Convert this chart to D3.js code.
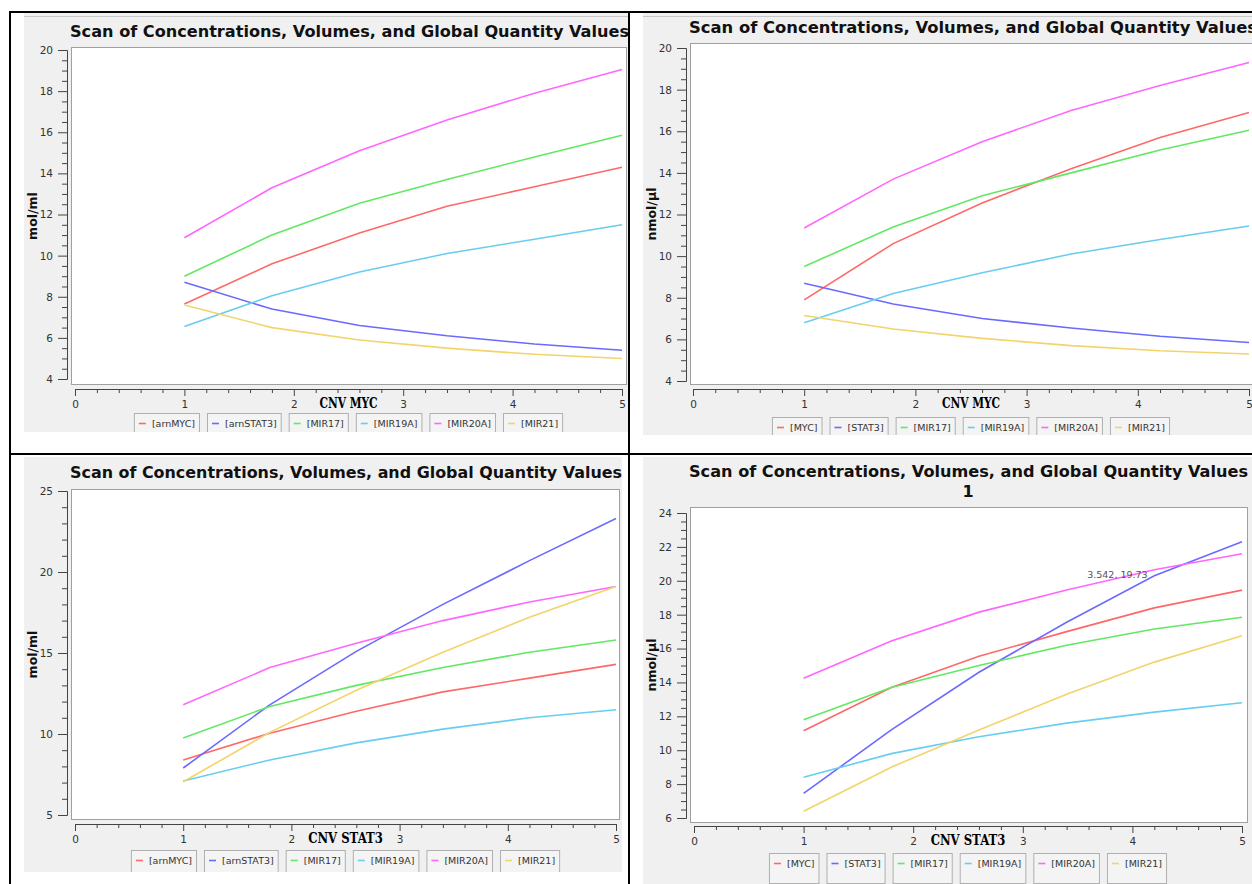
<!DOCTYPE html>
<html>
<head>
<meta charset="utf-8">
<script src="https://cdn.jsdelivr.net/npm/d3@7"></script>
<style>
  html, body { margin: 0; padding: 0; background: #fff; }
  svg { display: block; }
  text { font-family: 'DejaVu Sans', Verdana, sans-serif; }
</style>
</head>
<body>
<svg id="chart" width="1252" height="884"></svg>
<script>
// scan points (CNV value) where every series was sampled
const scanPoints = [1, 1.8, 2.6, 3.4, 4.2, 5];
const xTicks = [0, 1, 2, 3, 4, 5];

const titleText = 'Scan of Concentrations, Volumes, and Global Quantity Values';
const legendMol = ['[arnMYC]', '[arnSTAT3]', '[MIR17]', '[MIR19A]', '[MIR20A]', '[MIR21]'];
const legendNmol = ['[MYC]', '[STAT3]', '[MIR17]', '[MIR19A]', '[MIR20A]', '[MIR21]'];
const lineColours = ['#ff6868', '#6a6aff', '#62e862', '#68cdf0', '#ff66ff', '#f2d46a'];

// series order: MYC, STAT3, MIR17, MIR19A, MIR20A, MIR21
const cnvMycMol = [
  [7.65, 9.6, 11.1, 12.4, 13.35, 14.3],
  [8.7, 7.4, 6.6, 6.1, 5.7, 5.4],
  [9.0, 11.0, 12.55, 13.7, 14.8, 15.85],
  [6.55, 8.05, 9.2, 10.1, 10.8, 11.5],
  [10.87, 13.3, 15.1, 16.6, 17.9, 19.05],
  [7.6, 6.5, 5.9, 5.5, 5.2, 5.0]
];
const cnvMycNmol = [
  [7.9, 10.6, 12.55, 14.2, 15.7, 16.9],
  [8.7, 7.7, 7.0, 6.55, 6.15, 5.85],
  [9.5, 11.4, 12.9, 14.0, 15.1, 16.05],
  [6.8, 8.2, 9.2, 10.1, 10.8, 11.45],
  [11.35, 13.7, 15.5, 17.0, 18.2, 19.3],
  [7.15, 6.5, 6.05, 5.7, 5.45, 5.3]
];
const cnvStat3Mol = [
  [8.4, 10.05, 11.4, 12.6, 13.45, 14.3],
  [7.9, 11.8, 15.1, 18.0, 20.7, 23.3],
  [9.75, 11.7, 13.0, 14.1, 15.05, 15.8],
  [7.1, 8.4, 9.45, 10.3, 11.0, 11.5],
  [11.8, 14.1, 15.6, 17.0, 18.15, 19.1],
  [7.05, 10.1, 12.7, 15.05, 17.2, 19.1]
];
const cnvStat3Nmol = [
  [11.15, 13.7, 15.55, 17.0, 18.4, 19.45],
  [7.45, 11.2, 14.6, 17.55, 20.3, 22.3],
  [11.8, 13.7, 15.0, 16.2, 17.15, 17.85],
  [8.4, 9.8, 10.8, 11.6, 12.25, 12.8],
  [14.25, 16.45, 18.15, 19.45, 20.65, 21.6],
  [6.4, 9.0, 11.2, 13.3, 15.2, 16.75]
];

const yTicksMyc = [4, 6, 8, 10, 12, 14, 16, 18, 20];
const yTicksStat3Mol = [5, 10, 15, 20, 25];
const yTicksStat3Nmol = [6, 8, 10, 12, 14, 16, 18, 20, 22, 24];

const markerPoint = [3.542, 19.73];

const svg = d3.select('#chart');
const defs = svg.append('defs');

// the four screenshots sit in a table, one per cell
const panels = [
  { values: cnvMycMol, names: legendMol, xTitle: 'CNV MYC', yTitle: 'mol/ml',
    yTicks: yTicksMyc, minorStep: 0.5,
    box: [24, 13, 604, 419], plot: [71, 47, 556, 338], xr: [75, 622], yr: [379, 50],
    axisX: 67, axisY: 389, title: [70, 37], titleW: 559, yTitleX: 37, legendTop: 413 },
  { values: cnvMycNmol, names: legendNmol, xTitle: 'CNV MYC', yTitle: 'nmol/µl',
    yTicks: yTicksMyc, minorStep: 0.5,
    box: [643, 13, 609, 422], plot: [690, 43, 570, 342], xr: [693, 1249], yr: [381, 48],
    axisX: 686, axisY: 389, title: [689, 33], titleW: 568, yTitleX: 656, legendTop: 417 },
  { values: cnvStat3Mol, names: legendMol, xTitle: 'CNV STAT3', yTitle: 'mol/ml',
    yTicks: yTicksStat3Mol, minorStep: 1,
    box: [24, 457, 598, 415], plot: [71, 489, 549, 331], xr: [75, 616], yr: [815, 491],
    axisX: 67, axisY: 824, title: [70, 478], titleW: 552, yTitleX: 37, legendTop: 850 },
  { values: cnvStat3Nmol, names: legendNmol, xTitle: 'CNV STAT3', yTitle: 'nmol/µl',
    yTicks: yTicksStat3Nmol, minorStep: 0.5,
    box: [643, 457, 609, 427], plot: [690, 507, 558, 316], xr: [694, 1242], yr: [818, 513],
    axisX: 686, axisY: 826, title: [689, 477], titleW: 559, yTitleX: 656, legendTop: 853,
    subtitle: '1', marker: markerPoint }
];

panels.forEach(drawPanel);

// table borders
const borders = svg.append('g').attr('stroke', '#000').attr('stroke-width', 2);
borders.append('line').attr('x1', 10).attr('y1', 12).attr('x2', 1252).attr('y2', 12);
borders.append('line').attr('x1', 10).attr('y1', 11).attr('x2', 10).attr('y2', 884);
borders.append('line').attr('x1', 629).attr('y1', 11).attr('x2', 629).attr('y2', 884);
borders.append('line').attr('x1', 10).attr('y1', 454).attr('x2', 1252).attr('y2', 454);

function drawPanel(cfg, i) {
  const [bx, by, bw, bh] = cfg.box;
  const [px, py, pw, ph] = cfg.plot;

  defs.append('clipPath').attr('id', 'panel-clip-' + i)
    .append('rect').attr('x', bx).attr('y', by).attr('width', bw).attr('height', bh);
  defs.append('clipPath').attr('id', 'plot-clip-' + i)
    .append('rect').attr('x', px).attr('y', py).attr('width', pw).attr('height', ph);

  const g = svg.append('g').attr('clip-path', `url(#panel-clip-${i})`);

  g.append('rect')
    .attr('x', bx).attr('y', by).attr('width', bw).attr('height', bh)
    .attr('fill', '#f0f0f0');

  if (i < 2) {
    g.append('line')
      .attr('x1', bx).attr('x2', bx + bw).attr('y1', by + 3.5).attr('y2', by + 3.5)
      .attr('stroke', '#c8c8c8');
  }

  g.append('text')
    .attr('x', cfg.title[0]).attr('y', cfg.title[1])
    .attr('textLength', cfg.titleW).attr('lengthAdjust', 'spacingAndGlyphs')
    .style('font-size', '16px').style('font-weight', 'bold').attr('fill', '#111')
    .text(titleText);

  const x = d3.scaleLinear().domain([0, 5]).range(cfg.xr);
  const yDomain = d3.extent(cfg.yTicks);
  const y = d3.scaleLinear().domain(yDomain).range(cfg.yr);
  const xMid = (cfg.xr[0] + cfg.xr[1]) / 2;

  if (cfg.subtitle) {
    g.append('text')
      .attr('x', xMid).attr('y', cfg.title[1] + 20)
      .attr('text-anchor', 'middle')
      .style('font-size', '16px').style('font-weight', 'bold').attr('fill', '#111')
      .text(cfg.subtitle);
  }

  g.append('rect')
    .attr('x', px + 0.5).attr('y', py + 0.5).attr('width', pw - 1).attr('height', ph - 1)
    .attr('fill', '#fff').attr('stroke', '#a0a0a0');

  // y axis (minor and major ticks in separate groups)
  const yMinor = d3.range(yDomain[0], yDomain[1] + 1e-6, cfg.minorStep)
    .filter(v => !cfg.yTicks.includes(v));
  g.append('g').attr('transform', `translate(${cfg.axisX},0)`)
    .call(d3.axisLeft(y).tickValues(yMinor).tickSize(5).tickSizeOuter(0).tickFormat(''));
  g.append('g').attr('transform', `translate(${cfg.axisX},0)`)
    .call(d3.axisLeft(y).tickValues(cfg.yTicks).tickSize(9).tickSizeOuter(0).tickPadding(5)
      .tickFormat(d3.format('d')));

  // x axis
  const xMinor = d3.range(0, 5.0001, 0.2).filter(v => Math.abs(v - Math.round(v)) > 1e-6);
  g.append('g').attr('transform', `translate(0,${cfg.axisY})`)
    .call(d3.axisBottom(x).tickValues(xMinor).tickSize(4).tickSizeOuter(0).tickFormat(''));
  g.append('g').attr('transform', `translate(0,${cfg.axisY})`)
    .call(d3.axisBottom(x).tickValues(xTicks).tickSize(7).tickSizeOuter(0).tickPadding(5)
      .tickFormat(d3.format('d')));

  g.selectAll('.domain, .tick line').attr('stroke', '#444');
  g.selectAll('.tick text')
    .attr('fill', '#333')
    .style('font-family', "'DejaVu Sans', Verdana, sans-serif")
    .style('font-size', '10.5px');

  // series
  const line = d3.line()
    .x((d, j) => x(scanPoints[j]))
    .y(d => y(d));

  g.append('g')
    .attr('clip-path', `url(#plot-clip-${i})`)
    .selectAll('path')
    .data(cfg.values)
    .enter()
    .append('path')
    .attr('d', line)
    .attr('fill', 'none')
    .attr('stroke', (d, j) => lineColours[j])
    .attr('stroke-width', 1.6);

  if (cfg.marker) {
    g.append('text')
      .attr('x', x(cfg.marker[0]) + 5)
      .attr('y', y(cfg.marker[1]) - 7)
      .style('font-size', '9.5px').attr('fill', '#555')
      .text(cfg.marker[0] + ', ' + cfg.marker[1]);
  }

  // axis titles
  g.append('text')
    .attr('transform', `translate(${cfg.yTitleX},${py + ph / 2}) rotate(-90)`)
    .attr('text-anchor', 'middle')
    .style('font-size', '12.5px').style('font-weight', 'bold').attr('fill', '#111')
    .text(cfg.yTitle);

  g.append('text')
    .attr('x', xMid).attr('y', cfg.axisY + 19)
    .attr('text-anchor', 'middle')
    .style('font-family', "'DejaVu Serif', 'Liberation Serif', serif")
    .style('font-size', '14px').style('font-weight', 'bold').attr('fill', '#000')
    .attr('textLength', cfg.xTitle.length * 8.3).attr('lengthAdjust', 'spacingAndGlyphs')
    .text(cfg.xTitle);

  // legend
  const legend = g.append('g');
  const items = legend.selectAll('g')
    .data(cfg.names)
    .enter()
    .append('g');
  items.append('rect').attr('class', 'box');
  items.append('line')
    .attr('x1', 5).attr('x2', 12)
    .attr('y1', 10.5).attr('y2', 10.5)
    .attr('stroke', (d, j) => lineColours[j])
    .attr('stroke-width', 1.6);
  const labels = items.append('text')
    .attr('x', 18).attr('y', 14)
    .style('font-size', '9.5px').attr('fill', '#333')
    .text(d => d);

  const widths = labels.nodes().map(n => n.getComputedTextLength() + 23);
  const gap = 7;
  const total = d3.sum(widths) + gap * (widths.length - 1);
  let cursor = xMid - total / 2;
  items.each(function(d, j) {
    d3.select(this).attr('transform', `translate(${cursor},${cfg.legendTop})`);
    d3.select(this).select('rect.box')
      .attr('x', 0.5).attr('y', 0.5)
      .attr('width', widths[j] - 1).attr('height', 30)
      .attr('fill', '#f4f4f4')
      .attr('stroke', '#b0b0b0');
    cursor += widths[j] + gap;
  });
}
</script>
</body>
</html>
